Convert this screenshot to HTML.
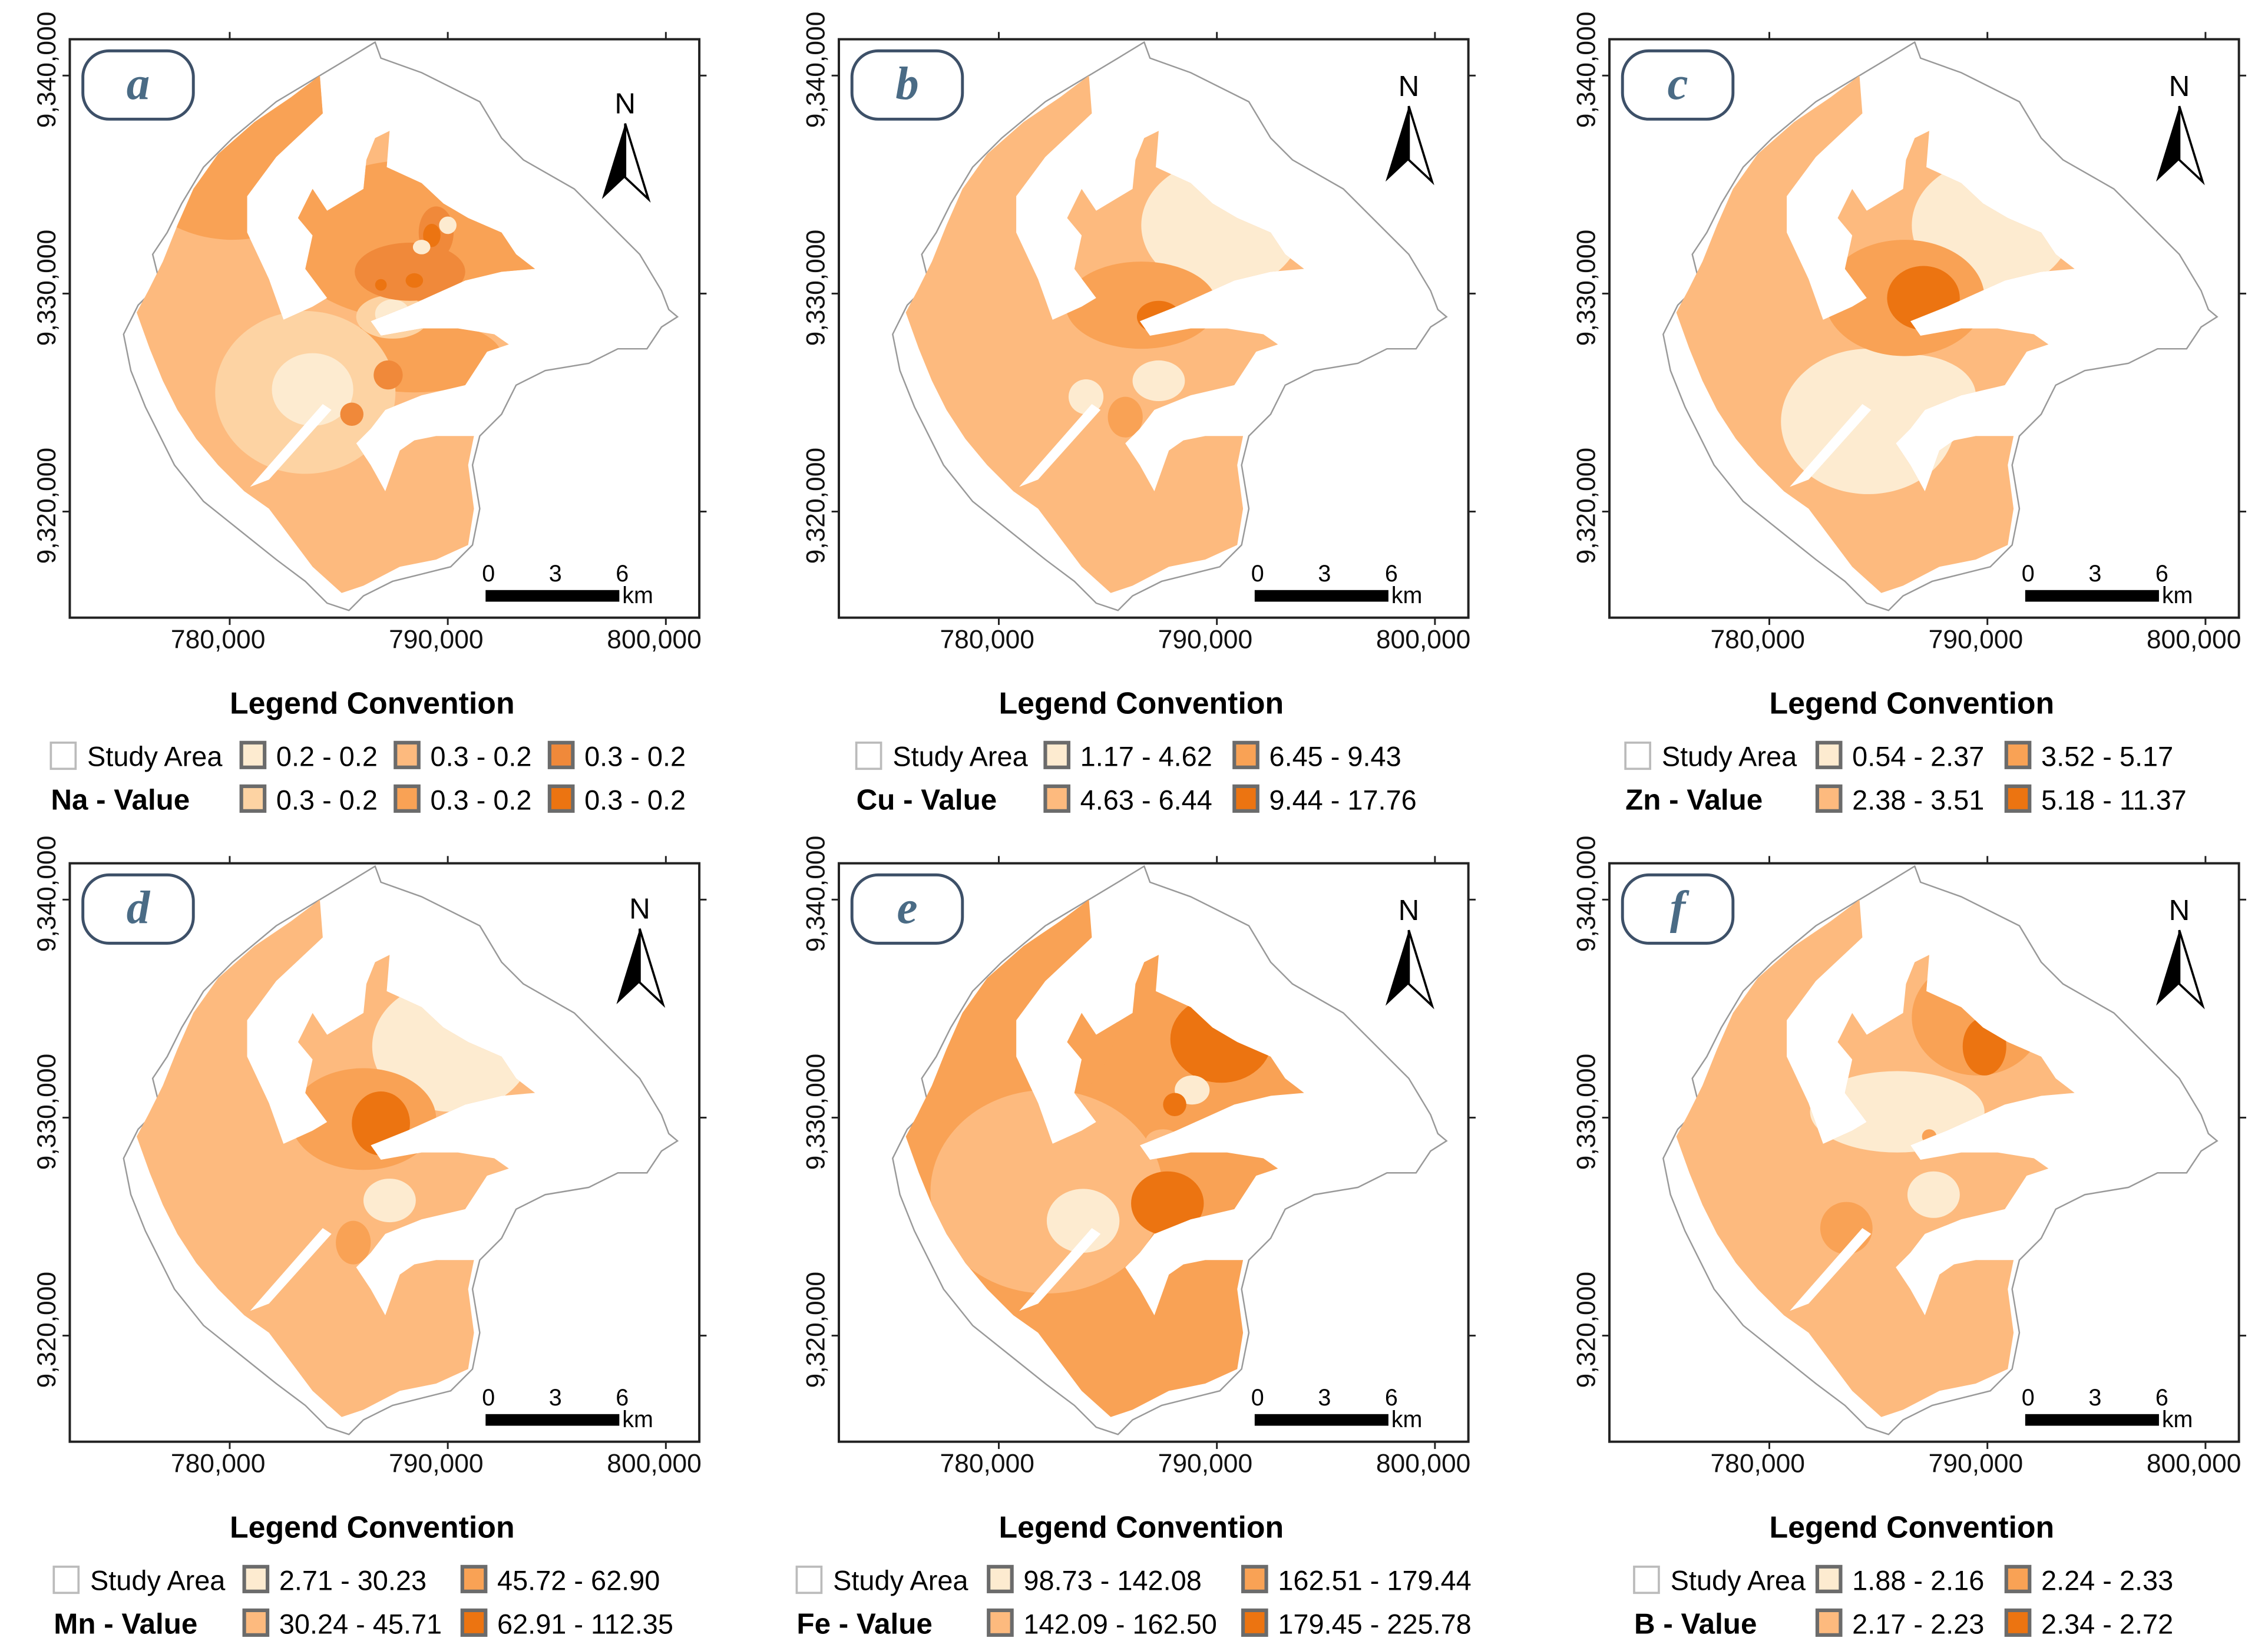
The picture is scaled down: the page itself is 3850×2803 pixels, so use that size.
<!DOCTYPE html>
<html><head><meta charset="utf-8"><style>
html,body{margin:0;padding:0;background:#fff;}
svg{display:block;}
text{font-family:"Liberation Sans",sans-serif;}
text.serif{font-family:"Liberation Serif",serif;}
</style></head>
<body>
<svg id="fig" xmlns="http://www.w3.org/2000/svg" width="3850" height="2803" viewBox="0 0 1560 1136" preserveAspectRatio="none">
<defs>
<clipPath id="fillclip"><polygon id="fillpoly" points=""/></clipPath>
</defs>
</svg>
<script>
// ---- data ----
const panelIds = ['a','b','c','d','e','f'];
const elements = ['Na','Cu','Zn','Mn','Fe','B'];
const classLabelsA = ['0.2 - 0.2','0.3 - 0.2','0.3 - 0.2','0.3 - 0.2','0.3 - 0.2','0.3 - 0.2'];
const classLabelsB = ['1.17 - 4.62','4.63 - 6.44','6.45 - 9.43','9.44 - 17.76'];
const classLabelsC = ['0.54 - 2.37','2.38 - 3.51','3.52 - 5.17','5.18 - 11.37'];
const classLabelsD = ['2.71 - 30.23','30.24 - 45.71','45.72 - 62.90','62.91 - 112.35'];
const classLabelsE = ['98.73 - 142.08','142.09 - 162.50','162.51 - 179.44','179.45 - 225.78'];
const classLabelsF = ['1.88 - 2.16','2.17 - 2.23','2.24 - 2.33','2.34 - 2.72'];
const xTicks = [780000, 790000, 800000];
const yTicks = [9340000, 9330000, 9320000];
const scaleTicks = [0, 3, 6];

const C6 = ['#FDEBD0','#FDD3A3','#FDBA7E','#F9A255','#F0893A','#EC7411'];
const C4 = ['#FDEBD0','#FDBA7E','#F9A255','#EC7411'];
const NS = 'http://www.w3.org/2000/svg';
const svg = document.getElementById('fig');

const outline = [[258,29],[262,40],[290,50],[330,70],[345,95],[360,110],[395,130],[415,150],[440,175],[455,200],[460,213],[466,218],[455,225],[445,240],[425,240],[405,250],[375,255],[355,265],[345,285],[330,300],[325,320],[330,350],[325,375],[310,390],[290,395],[270,400],[250,410],[240,420],[225,415],[210,400],[190,385],[165,365],[140,345],[120,320],[110,300],[100,280],[90,255],[85,230],[95,210],[110,195],[105,175],[115,160],[125,140],[140,115],[160,95],[190,70],[215,55],[240,40]];
const fillShape = [[220,52],[200,67],[175,84],[150,106],[133,130],[122,155],[112,180],[102,200],[94,215],[103,240],[112,262],[122,282],[135,302],[150,320],[168,338],[185,350],[200,370],[215,390],[235,408],[250,403],[275,390],[300,385],[322,375],[326,350],[322,320],[326,300],[300,300],[285,303],[275,310],[265,338],[255,320],[245,305],[255,295],[265,282],[290,272],[320,265],[335,242],[350,237],[340,230],[315,226],[290,226],[262,231],[255,221],[280,211],[300,202],[320,193],[345,187],[368,185],[355,175],[345,160],[322,150],[305,140],[290,126],[266,115],[268,90],[258,95],[252,110],[250,130],[225,145],[215,130],[205,150],[215,162],[210,185],[225,205],[215,211],[195,220],[185,192],[170,160],[170,135],[190,108],[222,78]];
document.getElementById('fillpoly').setAttribute('points', fillShape.map(p=>p.join(',')).join(' '));

const baseA = 2, baseB = 1, baseC = 1, baseD = 1, baseE = 2, baseF = 1;
const blobsA = [[160,95,80,70,3],[285,165,90,55,3],[285,245,60,25,3],[210,270,62,56,1],[215,268,28,25,0],[270,218,25,15,1],[270,216,12,10,0],[282,187,38,20,4],[300,160,12,18,4],[297,162,6,8,5],[285,193,6,5,5],[262,196,4,4,5],[267,258,10,10,4],[242,285,8,8,4],[290,170,6,5,0],[308,155,6,6,0]];
const blobsB = [[311,155,55,45,0],[256,210,52,30,2],[268,218,15,11,3],[268,262,18,14,0],[218,273,12,12,0],[245,287,12,14,2]];
const blobsC = [[311,155,55,45,0],[226,290,60,50,0],[255,272,45,28,0],[251,205,55,40,2],[264,205,25,22,3]];
const blobsD = [[311,153,55,45,0],[250,203,50,35,2],[262,206,20,22,3],[268,259,18,15,0],[243,288,12,15,2]];
const blobsE = [[150,130,90,80,2],[191,253,80,70,1],[216,273,25,22,0],[311,148,35,30,3],[274,261,25,22,3],[291,183,12,10,0],[271,218,12,8,1],[279,193,8,8,3]];
const blobsF = [[301,133,45,40,2],[306,153,15,20,3],[246,198,60,28,0],[271,255,18,16,0],[211,278,18,18,2],[268,215,5,5,2]];

const bases=[baseA,baseB,baseC,baseD,baseE,baseF];
const blobs=[blobsA,blobsB,blobsC,blobsD,blobsE,blobsF];
const labels=[classLabelsA,classLabelsB,classLabelsC,classLabelsD,classLabelsE,classLabelsF];
const offsets=[[0,0],[529,0],[1059,0],[0,567],[529,567],[1059,567]];
const northPos=[[430,72],[440,60],[440,60],[440,59],[440,60],[440,60]];
const studyX=[35,60,59,37,19,65];
const colsX=[[166,272,378],[190,320],[191,321],[168,318],[151,326],[191,321]];

const fx0=48, fy0=27, fw=433, fh=398;
function xs(v){ return 158 + (v-780000)/10000*150; }
function ys(v){ return 52 + (9340000-v)/10000*150; }
function ss(v){ return 334 + v/6*92; }

function el(tag, attrs, parent){ const e=document.createElementNS(NS,tag); for(const k in attrs) e.setAttribute(k,attrs[k]); (parent||svg).appendChild(e); return e; }

panelIds.forEach((id,i)=>{
  const [dx,dy]=offsets[i];
  const g=el('g',{transform:`translate(${dx},${dy})`});
  
  
  const cols = labels[i].length===6 ? C6 : C4;
  const ol=el('polygon',{points:outline.map(p=>p.join(',')).join(' '),fill:'#fff',stroke:'#999','stroke-width':1},g);
  
  
  const fg=el('g',{'clip-path':'url(#fillclip)'},g);
  
  
  el('rect',{x:80,y:40,width:300,height:380,fill:cols[bases[i]]},fg);
  blobs[i].forEach(b=>{
    const e=el('ellipse',{cx:b[0],cy:b[1],rx:b[2],ry:b[3],fill:cols[b[4]]},fg);
    
    
  });
  const sl=el('polygon',{points:'172,335 222,278 228,282 185,330',fill:'#fff'},g);
  
  
  const fr=el('rect',{x:fx0,y:fy0,width:fw,height:fh,fill:'none',stroke:'#222','stroke-width':1.6},g);
  
  
  xTicks.forEach(v=>{
    el('line',{x1:xs(v),x2:xs(v),y1:fy0-5,y2:fy0,stroke:'#222','stroke-width':1.2},g);
    el('line',{x1:xs(v),x2:xs(v),y1:fy0+fh,y2:fy0+fh+5,stroke:'#222','stroke-width':1.2},g);
    const t=el('text',{x:xs(v)-8,y:446,'font-size':18,'text-anchor':'middle',fill:'#111'},g);
    t.textContent=v.toLocaleString('en-US');
    
    
  });
  yTicks.forEach(v=>{
    el('line',{x1:fx0-5,x2:fx0,y1:ys(v),y2:ys(v),stroke:'#222','stroke-width':1.2},g);
    el('line',{x1:fx0+fw,x2:fx0+fw+5,y1:ys(v),y2:ys(v),stroke:'#222','stroke-width':1.2},g);
    const t=el('text',{x:0,y:0,'font-size':18,'text-anchor':'middle',fill:'#111',transform:`translate(38,${ys(v)-4}) rotate(-90)`},g);
    t.textContent=v.toLocaleString('en-US');
    
    
  });
  const lb=el('rect',{x:57,y:35,width:76,height:47,rx:18,fill:'#fff',stroke:'#3d5068','stroke-width':2},g);
  
  
  const lt=el('text',{x:95,y:68,'font-size':32,'font-style':'italic','font-weight':'bold','text-anchor':'middle',fill:'#4a6b85','class':'serif'},g);
  lt.textContent=id;
  
  
  const [nx,ny]=northPos[i];
  const na=el('g',{},g);
  
  
  const nt=el('text',{x:nx,y:ny+6,'font-size':20,'text-anchor':'middle',fill:'#000'},na);
  nt.textContent='N';
  el('polygon',{points:`${nx},${ny+13} ${nx-16},${ny+65} ${nx},${ny+50}`,fill:'#000'},na);
  el('polygon',{points:`${nx},${ny+13} ${nx+16},${ny+65} ${nx},${ny+50}`,fill:'#fff',stroke:'#000','stroke-width':1.5},na);
  const sb=el('g',{},g);
  
  
  el('rect',{x:ss(0),y:406,width:ss(6)-ss(0),height:8,fill:'#000'},sb);
  scaleTicks.forEach(v=>{ const t=el('text',{x:ss(v)+2,y:400,'font-size':16,'text-anchor':'middle',fill:'#000'},sb); t.textContent=v; });
  const km=el('text',{x:ss(6)+2,y:415,'font-size':16,fill:'#000'},sb); km.textContent='km';
  const lg=el('g',{},g);
  
  
  const tt=el('text',{x:256,y:491,'font-size':21,'font-weight':'bold','text-anchor':'middle',fill:'#000'},lg);
  tt.textContent='Legend Convention';
  el('rect',{x:studyX[i],y:511,width:17,height:18,fill:'#fff',stroke:'#bbb','stroke-width':1.5},lg);
  const st=el('text',{x:studyX[i]+25,y:527,'font-size':19,fill:'#000'},lg); st.textContent='Study Area';
  const vt=el('text',{x:studyX[i],y:557,'font-size':20,'font-weight':'bold',fill:'#000'},lg); vt.textContent=elements[i]+' - Value';
  labels[i].forEach((lab,k)=>{
    const col=Math.floor(k/2), row=k%2;
    const bx=colsX[i][col], by=511+row*30;
    const sw=el('rect',{x:bx,y:by,width:16,height:17,fill:cols[k],stroke:'#6b6b6b','stroke-width':2.5},lg);
    
    
    const t=el('text',{x:bx+24,y:by+16,'font-size':19,fill:'#000'},lg);
    t.textContent=lab;
    
    
  });
});
</script>
</body></html>
